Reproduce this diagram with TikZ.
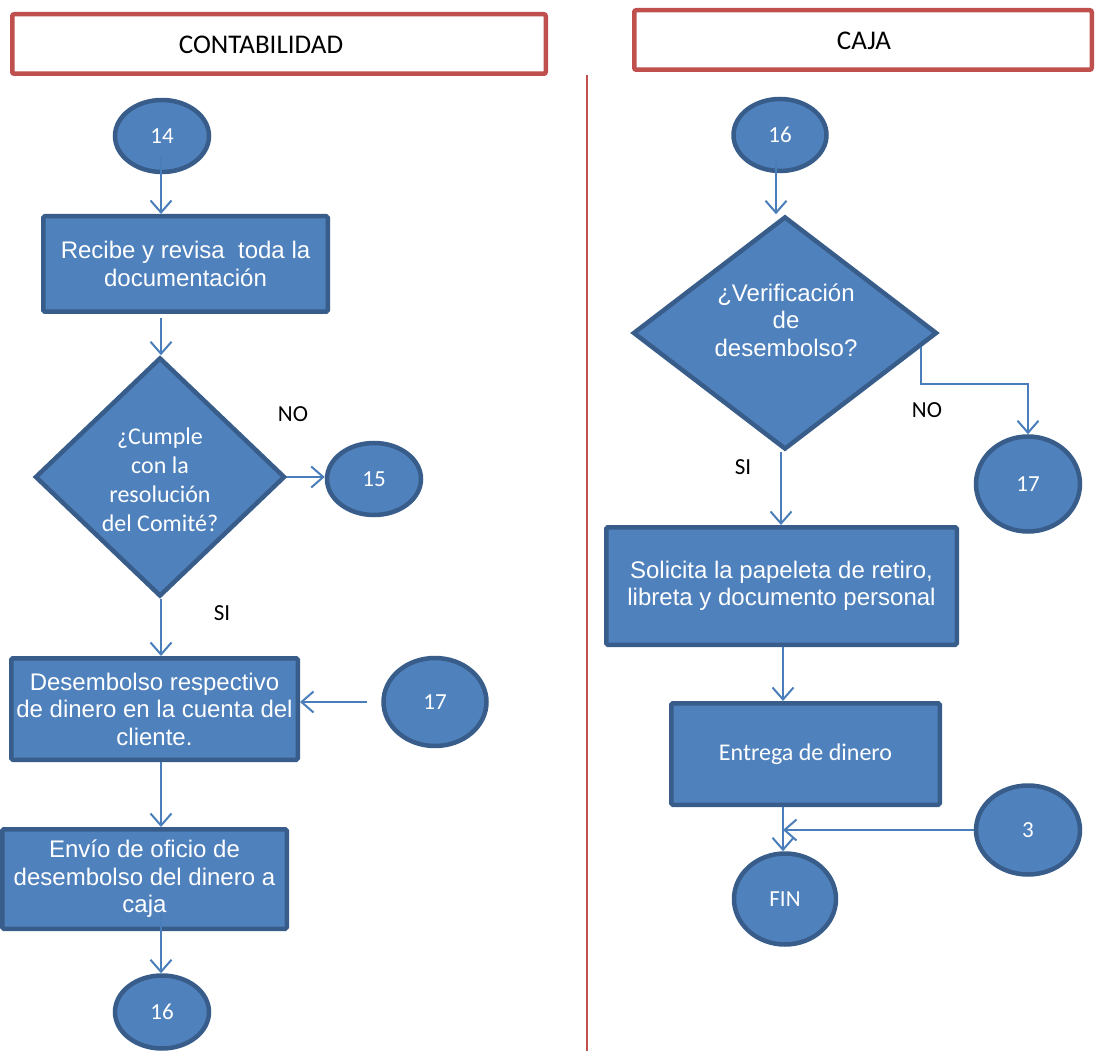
\documentclass[tikz,border=0pt]{standalone}
\usepackage{fontspec}
\setmainfont{Liberation Sans}
\newfontfamily\calib{Carlito}
\usetikzlibrary{arrows.meta,shapes.geometric,calc}
\definecolor{fillb}{HTML}{4F81BD}
\definecolor{bdr}{HTML}{385D8A}
\definecolor{arr}{HTML}{4A7EBB}
\definecolor{hred}{HTML}{C0504D}
\tikzset{
 flow/.style={draw=bdr, fill=fillb, line width=4.5pt, text=white},
 proc/.style={flow, rectangle, rounded corners=1.5pt, align=center, inner sep=0pt, font=\fontsize{24}{27.5}\selectfont},
 term/.style={flow, ellipse, inner sep=0pt, font=\calib\fontsize{23}{27}\selectfont},
 dec/.style={flow, diamond, inner sep=0pt},
 hdr/.style={draw=hred, line width=4.5pt, rounded corners=2pt, inner sep=0pt, fill=white},
 hdrtext/.style={font=\calib\fontsize{27}{32}\selectfont, text=black, inner sep=0pt},
 conn/.style={draw=arr, line width=2pt, -{Straight Barb[length=12pt,width=21pt]}},
 lbl/.style={font=\calib\fontsize{23}{27}\selectfont, text=black, inner sep=0pt},
 divider/.style={draw=hred, line width=1.5pt},
}
\begin{document}
\begin{tikzpicture}[x=1pt,y=-1pt]
\useasboundingbox (0,0) rectangle (1096,1051);
% headers
\node[hdr, minimum width=533.5, minimum height=59.5] (h1) at (279,44) {};
\node[hdrtext] (h1t) at (261,45) {CONTABILIDAD};
\node[hdr, minimum width=457.5, minimum height=59.5] (h2) at (863,40) {};
\node[hdrtext] (h2t) at (864,41) {CAJA};
\coordinate (dtop) at (587,75);
\coordinate (dbot) at (587,1051);
\draw[divider] (dtop) -- (dbot);
\coordinate (colL) at (161,0);
\coordinate (colR) at (783,0);
% left column
\node[term, minimum width=94, minimum height=72] (c14) at (162,136) {14};
\node[proc, minimum width=284.5, minimum height=95.5] (b1) at (185.5,264) {Recibe y revisa~ toda la\\documentación};
\node[dec, minimum width=250, minimum height=239] (d1) at (160,477) {};
\node[align=center, text=white, inner sep=0pt, font=\calib\fontsize{24}{29}\selectfont] (d1t) at (160,480) {¿Cumple\\con la\\resolución\\del Comité?};
\node[term, minimum width=94, minimum height=72] (c15) at (374,479) {15};
\node[lbl] (no1) at (293,414) {NO};
\node[lbl] (si1) at (222,613) {SI};
\node[proc, minimum width=286.5, minimum height=101.5] (b2) at (154.5,709) {Desembolso respectivo\\de dinero en la cuenta del\\cliente.};
\node[term, minimum width=103, minimum height=88] (c17l) at (435,702) {17};
\node[proc, minimum width=284.5, minimum height=99.5] (b3) at (144.5,879) {Envío de oficio de\\desembolso del dinero a\\caja};
\node[term, minimum width=94, minimum height=73] (c16b) at (162,1012) {16};
% right column
\node[term, minimum width=93, minimum height=72] (c16t) at (780,135) {16};
\node[dec, minimum width=304, minimum height=233] (d2) at (785,333) {};
\node[align=center, text=white, inner sep=0pt, font=\fontsize{24}{27.5}\selectfont] (d2t) at (786,320) {¿Verificación\\de\\desembolso?};
\node[lbl] (no2) at (927,410) {NO};
\node[lbl] (si2) at (743,467) {SI};
\node[term, minimum width=104, minimum height=95] (c17r) at (1028,484) {17};
\node[proc, minimum width=350.5, minimum height=117.5] (b4) at (781.5,586) {Solicita la papeleta de retiro,\\libreta y documento personal};
\node[proc, minimum width=268.5, minimum height=101.5, font=\calib\fontsize{24}{29}\selectfont] (b5) at (805.5,754) {Entrega de dinero};
\node[term, minimum width=102, minimum height=91] (fin) at (785,899) {FIN};
\node[term, minimum width=104, minimum height=89] (c3) at (1028,830) {3};
% connectors left
\draw[conn] ($(c14.south -| colL)+(0,-18)$) -- (b1.north -| colL);
\draw[conn] ($(b1.south -| colL)+(0,4)$) -- (d1.north -| colL);
\draw[conn] (d1.east) -- (d1.east -| c15.west);
\draw[conn] (d1.south -| colL) -- (b2.north -| colL);
\draw[conn] ($(c17l.west)+(-14,0)$) -- (c17l.west -| b2.east);
\draw[conn] (b2.south -| colL) -- (b3.north -| colL);
\draw[conn] ($(b3.south -| colL)+(0,-18)$) -- (c16b.north -| colL);
% connectors right
\draw[conn] ($(c16t.south)+(-4,-13)$) -- ($(c16t.south |- d2.north)+(-4,0)$);
\draw[conn] ($(d2.east)!0.12!(d2.south)$) -- ++(0,37) -| (c17r.north);
\draw[conn] ($(d2.south)+(-4,0)$) -- ($(d2.south |- b4.north)+(-4,0)$);
\draw[conn] (b4.south -| colR) -- (b5.north -| colR);
\draw[conn] (b5.south -| colR) -- (fin.north -| colR);
\draw[conn] (c3.west) -- (c3.west -| colR);
\end{tikzpicture}
\end{document}
